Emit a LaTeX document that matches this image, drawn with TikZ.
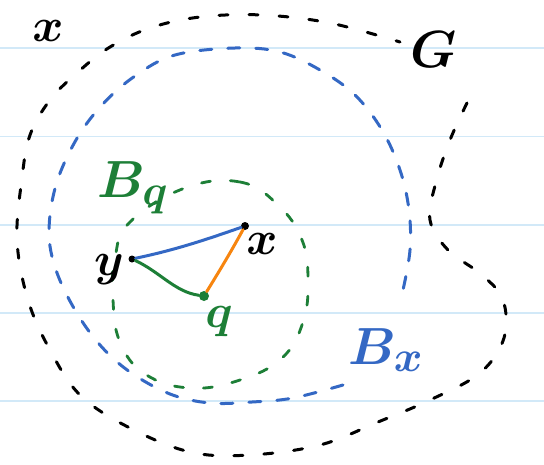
\documentclass[tikz,border=0pt]{standalone}
\definecolor{paperline}{HTML}{D2E9F8}
\definecolor{penblue}{HTML}{3468C4}
\definecolor{pengreen}{HTML}{1D7F37}
\definecolor{penorange}{HTML}{F7850F}
\begin{document}
\begin{tikzpicture}[x=1pt,y=-1pt,
  blackdash/.style={draw=black, line width=3pt, line cap=round, dash pattern=on 9pt off 21pt},
  bluedash/.style={draw=penblue, line width=3pt, line cap=round, dash pattern=on 12pt off 16pt},
  greendash/.style={draw=pengreen, line width=2.8pt, line cap=round, dash pattern=on 9pt off 20pt},
  pendot/.style={circle, fill=#1, inner sep=0pt, minimum size=8pt},
  seg/.style={line width=3pt, line cap=round},
  lbl/.style={inner sep=0pt, font=\Huge\boldmath, scale=1.9},
  bigl/.style={inner sep=0pt, font=\Huge\boldmath, scale=2.1}
]
\useasboundingbox (0,0) rectangle (544,464);
\fill[white] (0,0) rectangle (544,464);
\foreach \yy in {48,136.5,225,313,401}
  \draw[paperline, line width=1.6pt] (0,\yy) -- (544,\yy);

% outer set G
\draw[blackdash] plot[smooth, tension=0.6] coordinates {(467,103) (450,140) (436,182) (430,220) (448,250) (482,275) (503,300) (504,338) (480,373) (430,400) (378,422) (320,445) (250,455) (190,452) (128,427) (80,395) (50,350) (28,300) (17,240) (22,178) (30,135) (50,100) (78,72) (110,47) (150,28) (200,17) (262,15) (330,23) (400,42)};

% ball B_x
\draw[bluedash] plot[smooth, tension=0.6] coordinates {(343,385) (293,398) (252,402) (210,403) (170,394) (130,372) (100,345) (75,310) (56,270) (49,232) (56,185) (76,140) (102,105) (135,76) (175,55) (235,48) (280,52) (320,70) (355,95) (382,130) (400,170) (409,210) (410,250) (403,290)};

% ball B_q
\draw[greendash] plot[smooth cycle, tension=0.7] coordinates {(185,188) (240,182) (278,205) (302,240) (308,280) (303,322) (282,358) (240,380) (190,388) (145,374) (120,342) (113,300) (115,258) (130,222)};

% points
\node[pendot=black, minimum size=8pt] (x) at (245,226) {};
\node[pendot=black, minimum size=7pt] (y) at (132,259) {};
\node[pendot=pengreen, minimum size=10pt] (q) at (204,296) {};

% segments
\draw[seg, penblue] (y) .. controls (175,250) and (205,240) .. (x);
\draw[seg, pengreen] (y) .. controls (160,272) and (175,292) .. (q);
\draw[seg, penorange] (q) .. controls (220,270) and (232,250) .. (x);

% labels
\node[lbl] (lx) at (48,31) {$x$};
\node[bigl] (lG) at (434,50) {$G$};
\node[lbl] (lxp) at (262,244) {$x$};
\node[lbl] (ly) at (109,270) {$y$};
\node[lbl, text=pengreen] (lq) at (219,322) {$q$};
\node[bigl, text=pengreen] (lBq) at (133,188) {$B_q$};
\node[bigl, text=penblue] (lBx) at (386,350) {$B_x$};
\end{tikzpicture}
\end{document}
